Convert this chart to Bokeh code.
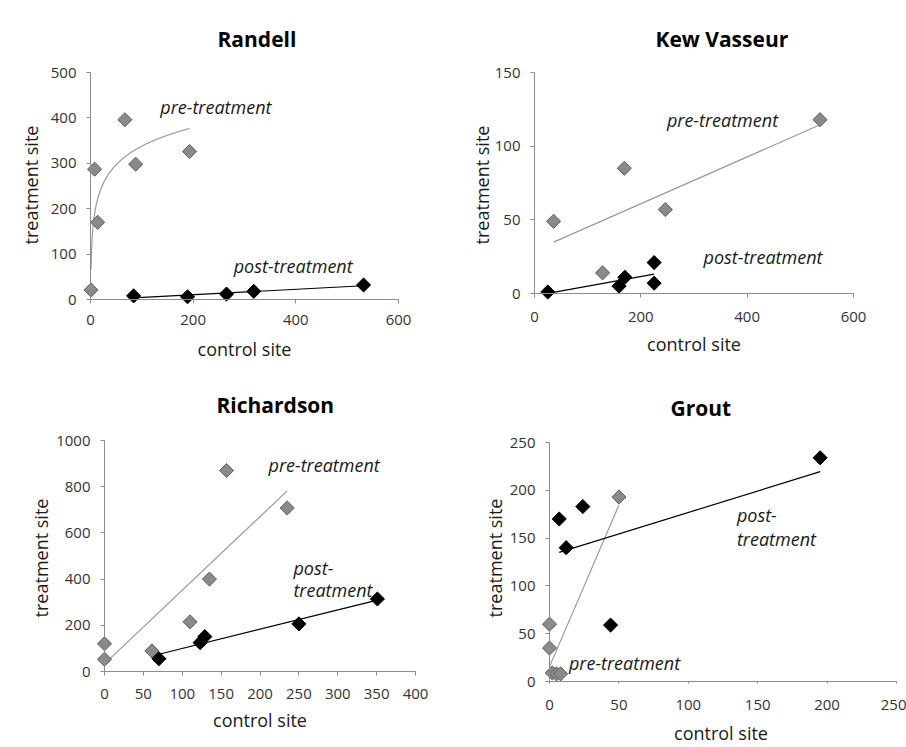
import numpy as np
from bokeh.plotting import figure
from bokeh.models import Range1d, Label, FixedTicker, LinearAxis
from bokeh.layouts import column, row
from bokeh.embed import file_html
from bokeh.resources import INLINE

# ---- data: counts at control site (x) vs treatment site (y) ----
randell_pre_x = [1, 8, 14, 67, 88, 193]
randell_pre_y = [21, 287, 170, 396, 298, 326]
randell_post_x = [84, 189, 265, 318, 532]
randell_post_y = [8, 6, 12, 18, 32]
randell_x_ticks = [0, 200, 400, 600]
randell_y_ticks = [0, 100, 200, 300, 400, 500]

kew_pre_x = [36, 128, 169, 246, 537]
kew_pre_y = [49, 14, 85, 57, 118]
kew_post_x = [25, 159, 170, 225, 225]
kew_post_y = [1, 5, 11, 21, 7]
kew_x_ticks = [0, 200, 400, 600]
kew_y_ticks = [0, 50, 100, 150]

rich_pre_x = [0, 0, 61, 110, 135, 157, 235]
rich_pre_y = [120, 53, 89, 215, 400, 870, 708]
rich_post_x = [70, 123, 129, 250, 351]
rich_post_y = [55, 125, 151, 206, 314]
rich_x_ticks = [0, 50, 100, 150, 200, 250, 300, 350, 400]
rich_y_ticks = [0, 200, 400, 600, 800, 1000]

grout_pre_x = [0, 0, 2, 5, 8, 50]
grout_pre_y = [60, 35, 9, 8, 8, 193]
grout_post_x = [7, 12, 24, 44, 195]
grout_post_y = [170, 140, 183, 59, 234]
grout_x_ticks = [0, 50, 100, 150, 200, 250]
grout_y_ticks = [0, 50, 100, 150, 200, 250]

FONT = "Open Sans"
PRE_FILL = "#8a8a8a"
PRE_EDGE = "#5e5e5e"
PRE_LINE = "#9a9a9a"
POST_COLOR = "#000000"
AXIS_COLOR = "#8c8c8c"
TEXT_COLOR = "#1a1a1a"


def linear_fit(xs, ys):
    k, b = np.polyfit(np.asarray(xs, float), np.asarray(ys, float), 1)
    gx = np.array([min(xs), max(xs)], float)
    return gx, k * gx + b


def log_fit(xs, ys):
    k, b = np.polyfit(np.log(np.asarray(xs, float)), np.asarray(ys, float), 1)
    gx = np.linspace(min(xs), max(xs), 200)
    return gx, k * np.log(gx) + b


def style_labels(ax, ticks):
    # frame-edge axis: carries the numbers and the axis title only
    ax.ticker = FixedTicker(ticks=ticks)
    ax.bounds = (0, ticks[-1])
    ax.axis_line_color = None
    ax.major_tick_line_color = None
    ax.major_tick_in = 0
    ax.major_tick_out = 0
    ax.minor_tick_line_color = None
    ax.major_label_text_font = FONT
    ax.major_label_text_font_size = "15px"
    ax.major_label_text_color = "#333333"
    ax.axis_label_text_font = FONT
    ax.axis_label_text_font_size = "18px"
    ax.axis_label_text_font_style = "normal"
    ax.axis_label_text_color = TEXT_COLOR


def zero_line_axis(ticks):
    # axis line through the data origin; tick marks come from minor ticks
    ax = LinearAxis(fixed_location=0,
                    ticker=FixedTicker(ticks=[], minor_ticks=ticks),
                    bounds=(0, ticks[-1]))
    ax.axis_line_color = AXIS_COLOR
    ax.axis_line_width = 1
    ax.major_tick_line_color = None
    ax.minor_tick_line_color = AXIS_COLOR
    ax.minor_tick_in = 4
    ax.minor_tick_out = 0
    ax.major_tick_in = 0
    ax.major_tick_out = 0
    ax.major_label_standoff = 0
    return ax


def panel(title, w, h, ox, x_end_px, oy, y_end_px, x_ticks, y_ticks, pads,
          title_offset, title_standoff, xlab, ylab_standoff):
    pad_l, pad_r, pad_t, pad_b = pads
    xmax, ymax = x_ticks[-1], y_ticks[-1]
    sx = (x_end_px - ox) / xmax
    sy = (oy - y_end_px) / ymax
    p = figure(width=w, height=h,
               x_range=Range1d(-pad_l / sx, xmax + pad_r / sx),
               y_range=Range1d(-pad_b / sy, ymax + pad_t / sy),
               output_backend="svg", toolbar_location=None,
               min_border_left=round(ox - pad_l),
               min_border_right=round(w - x_end_px - pad_r),
               min_border_top=round(y_end_px - pad_t),
               min_border_bottom=round(h - oy - pad_b))
    p.outline_line_color = None
    p.xgrid.visible = False
    p.ygrid.visible = False
    p.background_fill_color = "white"
    p.border_fill_color = "white"

    p.title.text = title
    p.title.align = "left"
    p.title.offset = title_offset
    p.title.standoff = title_standoff
    p.title.text_font = FONT
    p.title.text_font_style = "bold"
    p.title.text_font_size = "21px"
    p.title.text_color = "#000000"

    style_labels(p.xaxis[0], x_ticks)
    style_labels(p.yaxis[0], y_ticks)
    p.xaxis.axis_label = "control site"
    p.yaxis.axis_label = "treatment site"
    p.xaxis.major_label_standoff = xlab[0]
    p.xaxis.axis_label_standoff = xlab[1]
    p.yaxis.major_label_standoff = 6
    p.yaxis.axis_label_standoff = ylab_standoff

    p.add_layout(zero_line_axis(x_ticks), "above")
    p.add_layout(zero_line_axis(y_ticks), "right")
    return p


def add_series(p, pre_x, pre_y, post_x, post_y, pre_fit, post_fit):
    p.line(*pre_fit, line_color=PRE_LINE, line_width=1.2)
    p.line(*post_fit, line_color=POST_COLOR, line_width=1.2)
    p.scatter(pre_x, pre_y, marker="square", angle=np.pi / 4, size=10,
              fill_color=PRE_FILL, line_color=PRE_EDGE, line_width=1)
    p.scatter(post_x, post_y, marker="square", angle=np.pi / 4, size=10,
              fill_color=POST_COLOR, line_color=POST_COLOR, line_width=1)


def note(p, x, y, text):
    p.add_layout(Label(x=x, y=y, text=text, text_font=FONT,
                       text_font_style="italic", text_font_size="18px",
                       text_color=TEXT_COLOR, text_align="left",
                       text_baseline="middle"))


# Randell
p1 = panel("Randell", 453, 373, 90, 398, 299, 72,
           randell_x_ticks, randell_y_ticks, (8, 8, 8, 6),
           135, 23, (9, 9), 5)
add_series(p1, randell_pre_x, randell_pre_y, randell_post_x, randell_post_y,
           log_fit(randell_pre_x, randell_pre_y),
           linear_fit(randell_post_x, randell_post_y))
note(p1, 136, 425, "pre-treatment")
note(p1, 279, 73, "post-treatment")

# Kew Vasseur
p2 = panel("Kew Vasseur", 453, 373, 81, 400, 293, 72,
           kew_x_ticks, kew_y_ticks, (8, 8, 8, 12),
           129, 23, (6, 7), -2)
add_series(p2, kew_pre_x, kew_pre_y, kew_post_x, kew_post_y,
           linear_fit(kew_pre_x, kew_pre_y),
           linear_fit(kew_post_x, kew_post_y))
note(p2, 249, 118, "pre-treatment")
note(p2, 318, 25, "post-treatment")

# Richardson
p3 = panel("Richardson", 453, 374, 104, 415, 298, 67,
           rich_x_ticks, rich_y_ticks, (8, 8, 8, 12),
           120, 27, (5, 6), 0)
add_series(p3, rich_pre_x, rich_pre_y, rich_post_x, rich_post_y,
           linear_fit(rich_pre_x, rich_pre_y),
           linear_fit(rich_post_x, rich_post_y))
note(p3, 211, 893, "pre-treatment")
note(p3, 243, 449, "post-")
note(p3, 243, 352, "treatment")

# Grout
p4 = panel("Grout", 453, 374, 96, 442.7, 308, 69,
           grout_x_ticks, grout_y_ticks, (8, 4, 10, 2),
           129, 22, (16, 8), 0)
add_series(p4, grout_pre_x, grout_pre_y, grout_post_x, grout_post_y,
           linear_fit(grout_pre_x, grout_pre_y),
           linear_fit(grout_post_x, grout_post_y))
note(p4, 135, 174, "post-")
note(p4, 135, 149, "treatment")
note(p4, 14, 19, "pre-treatment")

layout = column(row(p1, p2, spacing=0), row(p3, p4, spacing=0), spacing=0)
open("out.html", "w").write(file_html(layout, INLINE))
